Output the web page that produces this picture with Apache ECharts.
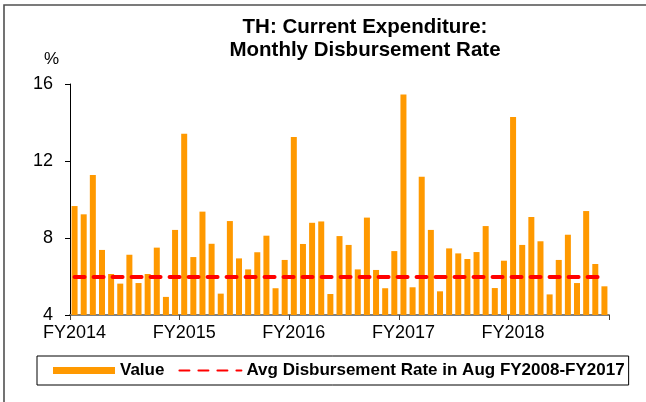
<!DOCTYPE html>
<html>
<head>
<meta charset="utf-8">
<title>TH: Current Expenditure</title>
<script src="https://cdn.jsdelivr.net/npm/echarts@6/dist/echarts.min.js"></script>
<style>
  html, body { margin: 0; padding: 0; background: #fff; }
  #chart { width: 646px; height: 402px; }
</style>
</head>
<body>
<div id="chart"></div>
<script>
// fiscal years shown on the axis (Thai FY starts in October)
const fiscalYears = ['FY2014', 'FY2015', 'FY2016', 'FY2017', 'FY2018']
const fyMonths = ['Oct', 'Nov', 'Dec', 'Jan', 'Feb', 'Mar', 'Apr', 'May', 'Jun', 'Jul', 'Aug', 'Sep']

// monthly disbursement rate, %, Oct FY2014 .. Aug FY2018
const values = [
  9.66, 9.23, 11.27, 7.38, 6.13, 5.63, 7.13, 5.66, 6.13, 7.5, 4.94, 8.42,
  13.42, 7.01, 9.37, 7.7, 5.11, 8.88, 6.94, 6.37, 7.26, 8.12, 5.39, 6.86,
  13.25, 7.69, 8.79, 8.86, 5.09, 8.1, 7.64, 6.37, 9.06, 6.34, 5.39, 7.32,
  15.46, 5.44, 11.18, 8.42, 5.23, 7.46, 7.2, 6.91, 7.27, 8.62, 5.4, 6.82,
  14.29, 7.64, 9.09, 7.83, 5.07, 6.86, 8.17, 5.66, 9.4, 6.65, 5.49
]

// average Aug disbursement rate FY2008-FY2017
const avgRate = 5.97

const yTicks = { min: 4, max: 16, interval: 4 }

// category list: one entry per month
const categories = []
fiscalYears.forEach((fy) => {
  fyMonths.forEach((m) => {
    if (categories.length < values.length) categories.push(fy + ' ' + m)
  })
})
const avgLine = categories.map(() => avgRate)

const FONT = 'Liberation Sans, Arial, sans-serif'
const AVG_NAME = 'Avg Disbursement Rate in Aug FY2008-FY2017'

const chart = echarts.init(document.getElementById('chart'))

const option = {
  backgroundColor: '#fff',
  animation: false,
  textStyle: { fontFamily: FONT },
  title: {
    text: 'TH: Current Expenditure:\nMonthly Disbursement Rate',
    left: 360,
    top: 11,
    textAlign: 'center',
    textStyle: {
      fontFamily: FONT,
      fontSize: 20.5,
      fontWeight: 'bold',
      lineHeight: 23,
      color: '#000'
    }
  },
  // outer frame (only top and left edges are visible)
  graphic: [
    {
      type: 'rect',
      shape: { x: 4, y: 5, width: 700, height: 500 },
      style: { fill: 'none', stroke: '#505050', lineWidth: 1.6 },
      silent: true
    }
  ],
  grid: {
    left: 70,
    right: 37,
    top: 84,
    bottom: 87
  },
  legend: {
    left: 37,
    top: 356,
    padding: [6, 4, 6, 16],
    borderColor: '#000',
    borderWidth: 1,
    itemGap: 14,
    itemWidth: 62,
    itemHeight: 7,
    textStyle: {
      fontFamily: FONT,
      fontSize: 17,
      fontWeight: 'bold',
      color: '#000'
    },
    data: [
      { name: 'Value', icon: 'rect' },
      { name: AVG_NAME, itemStyle: { opacity: 0 } }
    ]
  },
  xAxis: {
    type: 'category',
    data: categories,
    boundaryGap: true,
    axisLine: { lineStyle: { color: '#808080', width: 2 } },
    axisTick: {
      show: true,
      interval: 11,
      length: 5,
      lineStyle: { color: '#404040', width: 1 }
    },
    axisLabel: {
      interval: 11,
      margin: 9,
      fontFamily: FONT,
      fontSize: 18,
      color: '#000',
      formatter: (v) => v.split(' ')[0]
    },
    splitLine: { show: false }
  },
  yAxis: {
    type: 'value',
    min: yTicks.min,
    max: yTicks.max,
    interval: yTicks.interval,
    name: '%',
    nameLocation: 'end',
    nameGap: 16,
    nameTextStyle: {
      fontFamily: FONT,
      fontSize: 17,
      color: '#000',
      padding: [0, 37, 0, 0]
    },
    axisLine: { show: true, lineStyle: { color: '#000', width: 1 } },
    axisTick: { show: true, length: 5, lineStyle: { color: '#000' } },
    axisLabel: {
      margin: 17,
      fontFamily: FONT,
      fontSize: 18,
      color: '#000'
    },
    splitLine: { show: false }
  },
  series: [
    {
      name: 'Value',
      type: 'bar',
      data: values,
      barWidth: 6,
      itemStyle: { color: '#FF9900' }
    },
    {
      name: AVG_NAME,
      type: 'line',
      data: avgLine,
      symbol: 'none',
      symbolSize: 0,
      showSymbol: false,
      z: 5,
      itemStyle: { color: '#FF0000' },
      lineStyle: {
        color: '#FF0000',
        width: 4,
        type: [10, 9],
        cap: 'round'
      }
    }
  ]
}

chart.setOption(option)
</script>
</body>
</html>
